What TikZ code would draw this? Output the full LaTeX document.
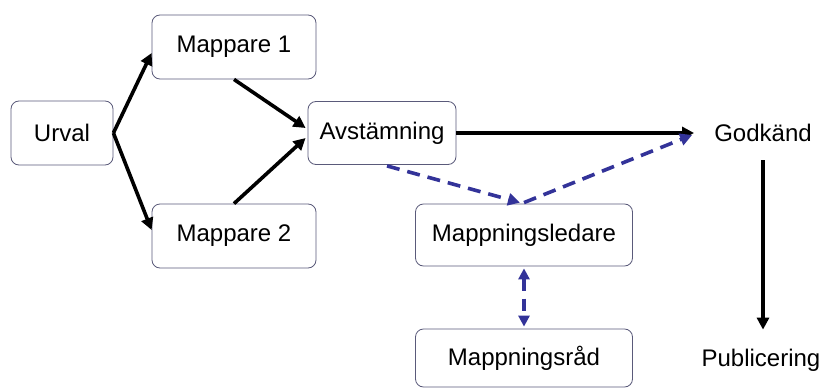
\documentclass[tikz,border=0pt]{standalone}
\usepackage{fontspec}
\setmainfont{Liberation Sans}
\usetikzlibrary{arrows.meta,calc}
\definecolor{dblue}{HTML}{333399}
\definecolor{boxline}{HTML}{5A5A7A}
\begin{document}
\begin{tikzpicture}[x=1pt,y=-1pt,
  box/.style={draw=boxline,line width=0.8pt,rounded corners=8pt,fill=white,inner sep=0pt,
    font=\fontsize{24}{24}\selectfont},
  lbl/.style={inner sep=2pt,font=\fontsize{24}{24}\selectfont},
  blk/.style={line width=3.6pt,black,-{Triangle[length=12pt,width=12pt]}},
  dsh/.style={line width=3.6pt,dblue,dash pattern=on 13pt off 8pt,-{Triangle[length=12pt,width=12pt]}},
  dsh2/.style={line width=3.6pt,dblue,dash pattern=on 12pt off 8pt,{Triangle[length=11pt,width=11pt]}-{Triangle[length=11pt,width=11pt]}}]
\useasboundingbox (0,0) rectangle (828,388);
\fill[white] (0,0) rectangle (828,388);
\node[box,minimum width=102pt,minimum height=64pt] (u) at (62,133) {Urval};
\node[box,minimum width=164pt,minimum height=64pt] (m1) at (234,47) {Mappare 1};
\node[box,minimum width=164pt,minimum height=64pt] (m2) at (234,236) {Mappare 2};
\node[box,minimum width=148pt,minimum height=63pt] (av) at (382,133) {Avstämning};
\node[box,minimum width=217pt,minimum height=62pt] (ml) at (524,235) {Mappningsledare};
\node[box,minimum width=217pt,minimum height=58pt] (mr) at (524,358) {Mappningsråd};
\node[lbl] (g) at (763,133) {Godkänd};
\node[lbl] (p) at (761,360) {Publicering};
\draw[blk] (u.east) -- ($(m1.west)+(0,6)$);
\draw[blk] (u.east) -- ($(m2.west)+(0,-6)$);
\draw[blk] (m1.south) -- ($(av.west)+(-2,-5)$);
\draw[blk] (m2.north) -- ($(av.west)+(-2,5)$);
\draw[blk] (av.east) -- ($(g.west)+(-18,0)$);
\draw[dsh] ($(av.south)+(5,1)$) -- ($(ml.north)+(-4,-1)$);
\draw[dsh] ($(ml.north)+(0,-1)$) -- ($(g.west)+(-20,2)$);
\draw[dsh2] ($(ml.south)+(0,2)$) -- ($(mr.north)+(0,-2)$);
\draw[blk] ($(g.south)+(0,16)$) -- ($(p.north)+(2,-17)$);
\end{tikzpicture}
\end{document}
